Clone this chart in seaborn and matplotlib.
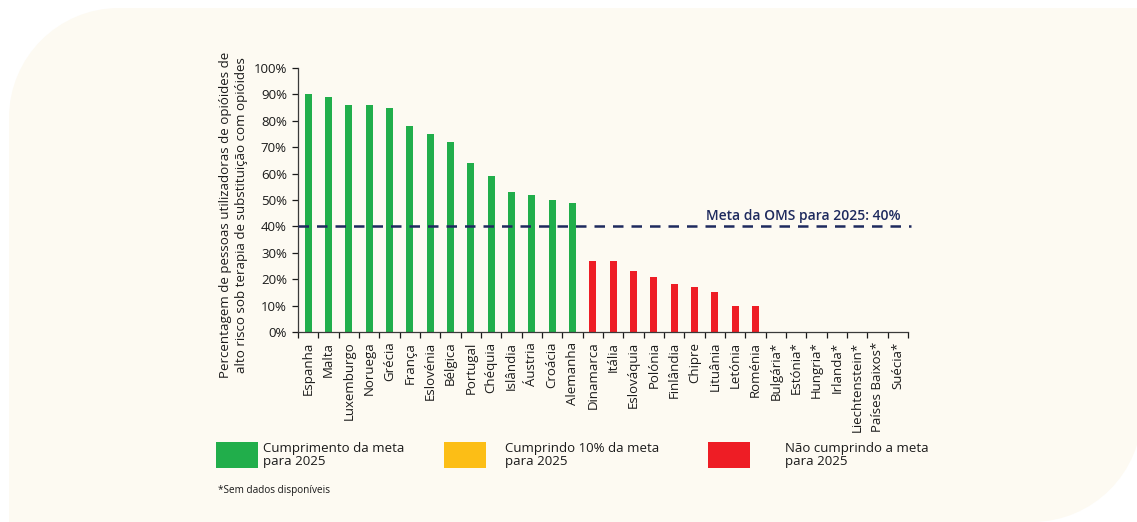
import numpy as np
import pandas as pd
import matplotlib
matplotlib.use("Agg")
import matplotlib.pyplot as plt
import seaborn as sns
from matplotlib.path import Path
from matplotlib.patches import PathPatch, Rectangle
from matplotlib.ticker import FixedLocator, PercentFormatter

# --- data -------------------------------------------------------------
countries = [
    "Espanha", "Malta", "Luxemburgo", "Noruega", "Grécia", "França",
    "Eslovénia", "Bélgica", "Portugal", "Chéquia", "Islândia", "Áustria",
    "Croácia", "Alemanha", "Dinamarca", "Itália", "Eslováquia", "Polónia",
    "Finlândia", "Chipre", "Lituânia", "Letónia", "Roménia", "Bulgária*",
    "Estónia*", "Hungria*", "Irlanda*", "Liechtenstein*", "Países Baixos*",
    "Suécia*",
]
coverage = [
    90, 89, 86, 86, 85, 78, 75, 72, 64, 59, 53, 52, 50, 49,
    27, 27, 23, 21, 18, 17, 15, 10, 10,
    0, 0, 0, 0, 0, 0, 0,
]
status = (["meta"] * 14) + (["abaixo"] * 9) + (["sem dados"] * 7)

who_target = 40
target_label = "Meta da OMS para 2025: 40%"
y_ticks = [0, 10, 20, 30, 40, 50, 60, 70, 80, 90, 100]
y_label = ("Percentagem de pessoas utilizadoras de opióides de\n"
           "alto risco sob terapia de substituição com opióides")
legend_labels = [
    "Cumprimento da meta\npara 2025",
    "Cumprindo 10% da meta\npara 2025",
    "Não cumprindo a meta\npara 2025",
]
footnote = "*Sem dados disponíveis"

GREEN = "#21AE4B"
YELLOW = "#FCBE16"
RED = "#EE1D25"
NAVY = "#1E2A5E"
CREAM = "#FDFAF2"
TEXT = "#1a1a1a"

palette = {"meta": GREEN, "abaixo": RED, "sem dados": "#FFFFFF00"}

df = pd.DataFrame({"pais": countries, "valor": coverage, "estado": status})

# --- figure -----------------------------------------------------------
sns.set_theme(style="white")
plt.rcParams["font.family"] = ["Open Sans", "DejaVu Sans"]
plt.rcParams["text.color"] = TEXT
plt.rcParams["axes.labelcolor"] = TEXT
plt.rcParams["xtick.color"] = TEXT
plt.rcParams["ytick.color"] = TEXT

W, H, DPI = 1137, 522, 100
fig = plt.figure(figsize=(W / DPI, H / DPI), dpi=DPI)
fig.patch.set_facecolor("white")

# cream panel: rounded top-left and bottom-right corners (pixel units)
def panel_path(x0, y0, x1, y1, r):
    k = 0.5523 * r
    verts = [
        (x0 + r, y1),
        (x1, y1),
        (x1, y0 + r),
        (x1, y0 + r - k), (x1 - r + k, y0), (x1 - r, y0),
        (x0, y0),
        (x0, y1 - r),
        (x0, y1 - r + k), (x0 + r - k, y1), (x0 + r, y1),
        (x0 + r, y1),
    ]
    codes = [Path.MOVETO, Path.LINETO, Path.LINETO,
             Path.CURVE4, Path.CURVE4, Path.CURVE4,
             Path.LINETO, Path.LINETO,
             Path.CURVE4, Path.CURVE4, Path.CURVE4,
             Path.CLOSEPOLY]
    return Path([(vx / DPI, vy / DPI) for vx, vy in verts], codes)

panel = PathPatch(panel_path(9, 0, W + 5, H - 8, 110),
                  transform=fig.dpi_scale_trans, facecolor=CREAM,
                  edgecolor="none", zorder=0)
fig.add_artist(panel)

ax = fig.add_axes([298 / W, 1 - 332 / H, (908 - 298) / W, (332 - 68) / H])
ax.set_facecolor("none")

sns.barplot(data=df, x="pais", y="valor", hue="estado", palette=palette,
            dodge=False, width=0.36, legend=False, saturation=1,
            edgecolor="none", ax=ax, zorder=2)

ax.set_xlim(-0.5, len(countries) - 0.5)
ax.set_ylim(0, 100)
ax.set_xlabel("")
ax.set_ylabel("")

ax.yaxis.set_major_locator(FixedLocator(y_ticks))
ax.yaxis.set_major_formatter(PercentFormatter(decimals=0))
ax.tick_params(axis="y", which="major", direction="out", length=4,
               width=0.9, labelsize=9.5, pad=4, left=True)
ax.tick_params(axis="x", which="major", length=0, labelsize=9.5, pad=7,
               labelrotation=90)
ax.xaxis.set_minor_locator(FixedLocator(np.arange(-0.5, len(countries), 1)))
ax.tick_params(axis="x", which="minor", direction="out", length=4,
               width=0.9, bottom=True)

for side in ("top", "right"):
    ax.spines[side].set_visible(False)
for side in ("left", "bottom"):
    ax.spines[side].set_color("#3a3a3a")
    ax.spines[side].set_linewidth(0.9)

# WHO 2025 target line
ax.axhline(who_target, color=NAVY, lw=1.8, ls=(0, (4.2, 3.2)), zorder=3,
           xmin=0, xmax=1.005, clip_on=False)
ax.text(len(countries) - 0.85, who_target + 1.2, target_label, color=NAVY,
        fontsize=10, ha="right", va="bottom", fontweight="semibold")

# y-axis title
fig.text(233 / W, 1 - 215 / H, y_label, rotation=90, ha="center",
         va="center", fontsize=9.6, linespacing=1.3, color=TEXT)

# legend
legend_items = [
    (216, 263, GREEN, legend_labels[0]),
    (444, 505, YELLOW, legend_labels[1]),
    (708, 785, RED, legend_labels[2]),
]
for x_box, x_txt, col, lab in legend_items:
    fig.add_artist(Rectangle((x_box / W, 1 - 468 / H), 42 / W, 26 / H,
                             transform=fig.transFigure, facecolor=col,
                             edgecolor="none"))
    fig.text(x_txt / W, 1 - 455 / H, lab, ha="left", va="center",
             fontsize=9.5, linespacing=0.95, color=TEXT)

fig.text(218 / W, 1 - 490 / H, footnote, ha="left", va="center",
         fontsize=7.2, color=TEXT)

fig.savefig("out.png", dpi=DPI, facecolor=fig.get_facecolor())
